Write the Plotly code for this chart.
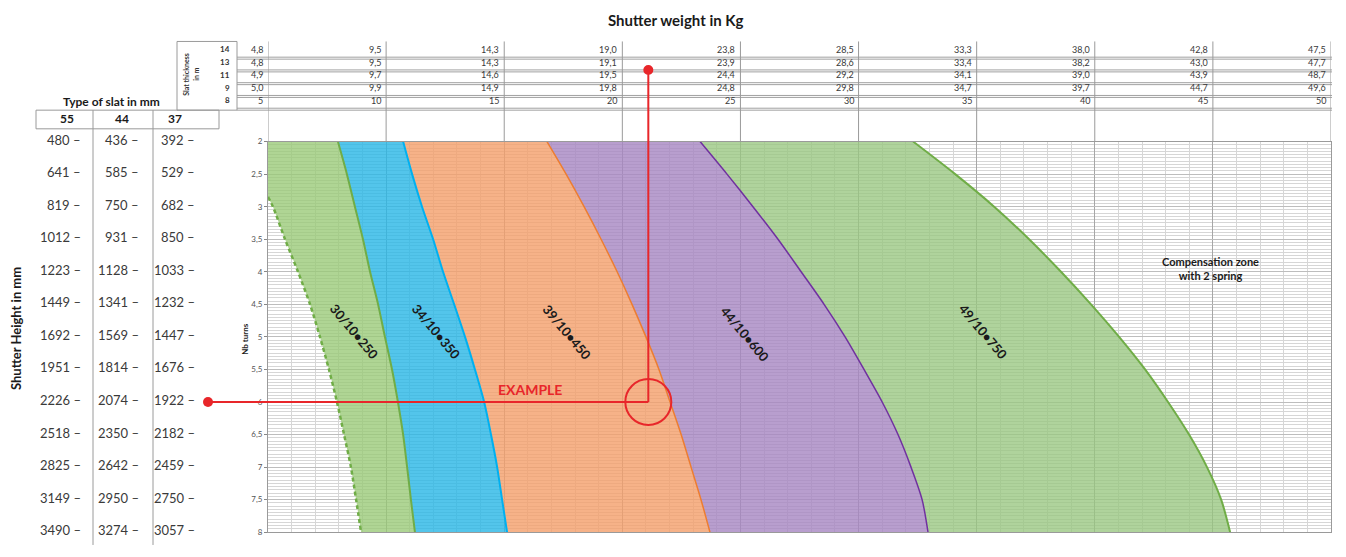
import plotly.graph_objects as go

# page body has an 8px margin: the figure is placed at (8, 8) in the window
OFF = 8
FW, FH = 1330, 541

# ---------------- data ----------------
turns = [2, 2.5, 3, 3.5, 4, 4.5, 5, 5.5, 6, 6.5, 7, 7.5, 8]
turn_labels = ["2", "2,5", "3", "3,5", "4", "4,5", "5", "5,5", "6", "6,5", "7", "7,5", "8"]

# lower limit of the first spring (dashed edge), kg
edge_min_turns = [2, 2.85, 3, 3.5, 4, 4.5, 5, 5.5, 6, 6.5, 7, 7.5, 8]
edge_min_kg = [5.0, 5.0, 5.21, 5.72, 6.27, 6.78, 7.20, 7.58, 7.92, 8.22, 8.51, 8.73, 8.94]
# boundaries between spring zones (kg at each number of turns)
edge_250_350 = [7.96, 8.34, 8.68, 9.02, 9.32, 9.66, 9.95, 10.25, 10.50, 10.72, 10.89, 11.05, 11.22]
edge_350_450 = [10.72, 11.10, 11.52, 11.99, 12.41, 12.88, 13.34, 13.76, 14.15, 14.44, 14.70, 14.91, 15.12]
edge_450_600 = [16.81, 17.62, 18.38, 19.10, 19.78, 20.41, 21.00, 21.55, 22.02, 22.49, 22.91, 23.33, 23.71]
edge_600_750 = [23.29, 24.43, 25.53, 26.59, 27.57, 28.54, 29.43, 30.23, 31.00, 31.67, 32.22, 32.69, 32.94]
edge_max_750 = [32.31, 34.09, 35.74, 37.22, 38.57, 39.84, 41.03, 42.13, 43.10, 43.99, 44.75, 45.35, 45.73]

spring_names = ["30/10•250", "34/10•350", "39/10•450", "44/10•600", "49/10•750"]
spring_label_kg = [8.68, 12.15, 17.66, 25.2, 35.3]
spring_label_turns = [4.92, 4.92, 4.92, 4.95, 4.92]

# top table: shutter weight (kg) by slat thickness
weight_cols = [5, 10, 15, 20, 25, 30, 35, 40, 45, 50]
slat_rows = [14, 13, 11, 9, 8]
w_14 = [4.8, 9.5, 14.3, 19.0, 23.8, 28.5, 33.3, 38.0, 42.8, 47.5]
w_13 = [4.8, 9.5, 14.3, 19.1, 23.9, 28.6, 33.4, 38.2, 43.0, 47.7]
w_11 = [4.9, 9.7, 14.6, 19.5, 24.4, 29.2, 34.1, 39.0, 43.9, 48.7]
w_9 = [5.0, 9.9, 14.9, 19.8, 24.8, 29.8, 34.7, 39.7, 44.7, 49.6]
w_8 = [5, 10, 15, 20, 25, 30, 35, 40, 45, 50]

# left table: shutter height (mm) by type of slat
slat_types = ["55", "44", "37"]
h_55 = [480, 641, 819, 1012, 1223, 1449, 1692, 1951, 2226, 2518, 2825, 3149, 3490]
h_44 = [436, 585, 750, 931, 1128, 1341, 1569, 1814, 2074, 2350, 2642, 2950, 3274]
h_37 = [392, 529, 682, 850, 1033, 1232, 1447, 1676, 1922, 2182, 2459, 2750, 3057]

example_kg = 21.1
example_turns = 6


# ---------------- layout helpers (window pixels -> paper) ----------------
def px(x):
    return (x - OFF) / FW


def py(y):
    return 1 - (y - OFF) / FH


X0, X1 = px(268), px(1331)
Y0, Y1 = py(537), py(139)

FONT = "Lato, 'Open Sans', sans-serif"
GRID_MAJ = "#a6a6a6"
GRID_MIN = "#d6d6d6"
TXT = "#333333"

fig = go.Figure()


def band(left_x, left_y, right_x, right_y, color):
    xs = list(left_x) + list(reversed(right_x))
    ys = list(left_y) + list(reversed(right_y))
    fig.add_trace(go.Scatter(x=xs, y=ys, fill="toself", fillcolor=color, mode="lines",
                             line=dict(width=0), hoverinfo="skip"))


green = "rgba(152,201,118,0.78)"
cyan = "rgba(40,182,230,0.80)"
orange = "rgba(244,159,106,0.80)"
purple = "rgba(166,134,194,0.80)"
green2 = "rgba(152,198,128,0.78)"

band(edge_min_kg, edge_min_turns, edge_250_350, turns, green)
band(edge_250_350, turns, edge_350_450, turns, cyan)
band(edge_350_450, turns, edge_450_600, turns, orange)
band(edge_450_600, turns, edge_600_750, turns, purple)
band(edge_600_750, turns, edge_max_750, turns, green2)


def edge(xs, ys, color, width, dash="solid"):
    fig.add_trace(go.Scatter(x=xs, y=ys, mode="lines", hoverinfo="skip",
                             line=dict(color=color, width=width, dash=dash, shape="spline", smoothing=0.8)))


edge(edge_min_kg[1:], edge_min_turns[1:], "#70ad47", 2.5, "4px,3px")
edge(edge_250_350, turns, "#70ad47", 2)
edge(edge_350_450, turns, "#00b0f0", 2)
edge(edge_450_600, turns, "#ed7d31", 1.5)
edge(edge_600_750, turns, "#7030a0", 1.5)
edge(edge_max_750, turns, "#70ad47", 2)

fig.update_xaxes(domain=[X0, X1], range=[5, 50], showticklabels=False, ticks="",
                 tick0=5, dtick=5, showgrid=True, gridcolor=GRID_MAJ, gridwidth=1,
                 minor=dict(tick0=5, dtick=1, showgrid=True, gridcolor=GRID_MIN, gridwidth=1),
                 showline=True, linecolor="#9a9a9a", mirror=True, zeroline=False)
fig.update_yaxes(domain=[Y0, Y1], range=[8, 2], tickmode="array", tickvals=turns, ticktext=turn_labels,
                 tickfont=dict(size=8, color="#555555", family=FONT), ticks="outside", ticklen=3,
                 tickcolor="#888888", showgrid=True, gridcolor="#bdbdbd", gridwidth=1,
                 minor=dict(tickmode="linear", tick0=2, dtick=0.05, showgrid=True, gridcolor=GRID_MIN,
                            gridwidth=1, ticks=""),
                 showline=True, linecolor="#9a9a9a", mirror=True, zeroline=False)

shapes = []
ann = []


def line(x0, y0, x1, y1, color="#9a9a9a", width=1, xref="paper", yref="paper"):
    shapes.append(dict(type="line", x0=x0, y0=y0, x1=x1, y1=y1, xref=xref, yref=yref,
                       line=dict(color=color, width=width)))


def text(x, y, s, size=12, bold=False, color=TXT, xanchor="center", yanchor="middle",
         angle=0, xref="paper", yref="paper", xshift=0, yshift=0):
    ann.append(dict(x=x, y=y, text=("<b>%s</b>" % s) if bold else s, xref=xref, yref=yref,
                    showarrow=False, xanchor=xanchor, yanchor=yanchor, textangle=angle,
                    xshift=xshift, yshift=yshift,
                    font=dict(size=size, color=color, family=FONT)))


# ---- top table ----
text(px(676), py(15), "Shutter weight in Kg", size=15, bold=True, color="#1a1a1a")
row_y = [45, 58, 71, 84, 97]
sep_y = [53, 66, 79, 92, 105]
for yy in sep_y:
    line(px(237), py(yy), px(1332), py(yy), color="#a0a0a0", width=1)
    line(px(237), py(yy + 2), px(1332), py(yy + 2), color="#a0a0a0", width=1)
for wc in weight_cols:
    line(wc, py(37), wc, py(139), color="#9a9a9a", width=1, xref="x")
# slat thickness box
shapes.append(dict(type="rect", x0=px(177), x1=px(237), y0=py(107), y1=py(37), xref="paper", yref="paper",
                   line=dict(color="#9a9a9a", width=1)))
text(px(186), py(71), "Slat thickness", size=7, bold=True, angle=-90)
text(px(196), py(71), "in m", size=7, bold=True, angle=-90)
rows = [w_14, w_13, w_11, w_9, w_8]
for r, yy, vals in zip(slat_rows, row_y, rows):
    text(px(232), py(yy), str(r), size=8, bold=True, xanchor="right")
    for wc, v in zip(weight_cols, vals):
        s = str(v) if r == 8 else ("%.1f" % v).replace(".", ",")
        text(wc, py(yy), s, size=9, bold=False, xanchor="right", xref="x", xshift=-3, color="#3a3a3a")

# ---- left table ----
text(px(111), py(98), "Type of slat in mm", size=12, bold=True, color="#1a1a1a")
shapes.append(dict(type="rect", x0=px(36), x1=px(219), y0=py(126), y1=py(107), xref="paper", yref="paper",
                   line=dict(color="#9a9a9a", width=1)))
line(px(93), py(107), px(93), py(550))
line(px(153), py(107), px(153), py(550))
for s, cx in zip(slat_types, [67, 122, 175]):
    text(px(cx), py(115), s, size=12, bold=True, color="#1a1a1a")
for vals, rx in zip([h_55, h_44, h_37], [83, 141, 197]):
    for t, v in zip(turns, vals):
        text(px(rx), t, "%d –" % v, size=13, xanchor="right", yref="y", color="#3a3a3a", yshift=2)
text(px(16), py(330), "Shutter Height in mm", size=13, bold=True, angle=-90, color="#1a1a1a")
text(px(245), py(340), "Nb turns", size=8, bold=True, angle=-90, color="#1a1a1a")

# ---- spring labels ----
for name, kx, ty in zip(spring_names, spring_label_kg, spring_label_turns):
    text(kx, ty, name, size=13, bold=True, angle=50, xref="x", yref="y", color="#1a1a1a")
text(44.9, 3.95, "Compensation zone<br>with 2 spring", size=11, bold=True, xref="x", yref="y",
     color="#1a1a1a")

# ---- example ----
RED = "#e8262a"
shapes.append(dict(type="line", xref="paper", yref="y", x0=px(208), x1=X0 + (example_kg - 5) / 45 * (X1 - X0),
                   y0=example_turns, y1=example_turns, line=dict(color=RED, width=2)))
shapes.append(dict(type="line", xref="x", yref="paper", x0=example_kg, x1=example_kg,
                   y0=Y0 + (8 - example_turns) / 6 * (Y1 - Y0), y1=py(66), line=dict(color=RED, width=2)))
shapes.append(dict(type="circle", xref="x", yref="y", xsizemode="pixel", ysizemode="pixel",
                   xanchor=example_kg, yanchor=example_turns, x0=-23, x1=23, y0=-23, y1=23,
                   line=dict(color=RED, width=2)))
shapes.append(dict(type="circle", xref="paper", yref="y", ysizemode="pixel", yanchor=example_turns,
                   x0=px(203), x1=px(213), y0=-5, y1=5, fillcolor=RED, line=dict(color=RED, width=0)))
shapes.append(dict(type="circle", xref="x", yref="paper", xsizemode="pixel", xanchor=example_kg,
                   x0=-5, x1=5, y0=py(71), y1=py(61), fillcolor=RED, line=dict(color=RED, width=0)))
text(16.09, 5.81, "EXAMPLE", size=14, bold=True, xref="x", yref="y", color=RED)

fig.update_layout(width=FW, height=FH, margin=dict(l=0, r=0, t=0, b=0), paper_bgcolor="white",
                  plot_bgcolor="white", showlegend=False, shapes=shapes, annotations=ann,
                  font=dict(family=FONT))
fig.write_html("out.html")
